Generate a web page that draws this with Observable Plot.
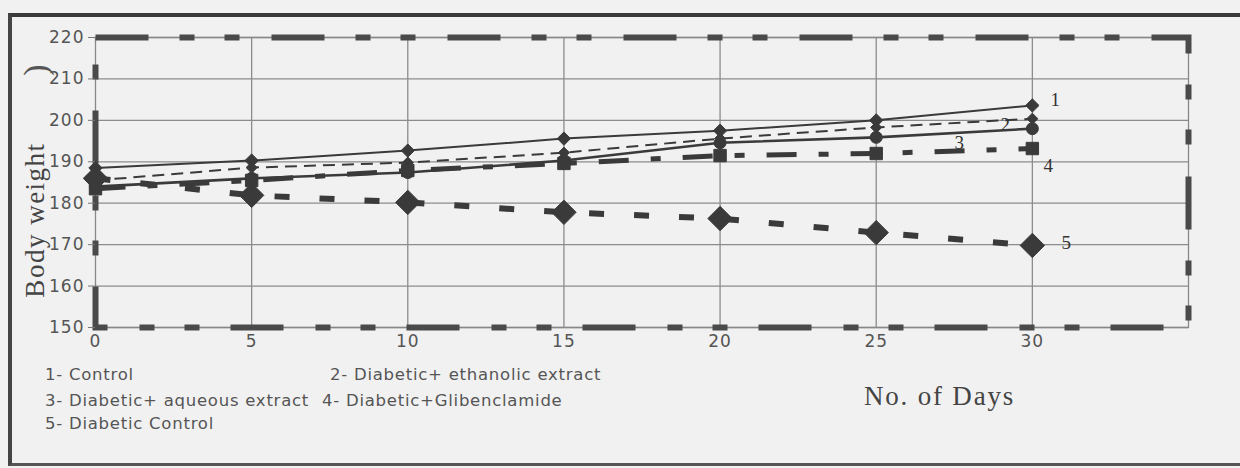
<!DOCTYPE html>
<html><head><meta charset="utf-8">
<script src="https://cdn.jsdelivr.net/npm/d3@7"></script>
<script src="https://cdn.jsdelivr.net/npm/@observablehq/plot@0.6"></script>
<style>
body{margin:0;background:#f1f1f1;}
#wrap{position:relative;width:1240px;height:468px;overflow:hidden;font-family:"DejaVu Sans",sans-serif;}
#chart{position:absolute;left:0;top:0;}
#outer{position:absolute;left:8px;top:13px;width:1250px;height:446px;border-left:4px solid #444;border-top:4px solid #3a3a3a;border-bottom:3px solid #555;}
.leg{position:absolute;font-size:16.5px;color:#555;letter-spacing:0.75px;white-space:nowrap;}
#xlabel{position:absolute;left:864px;top:381px;font-family:"Liberation Serif",serif;font-size:27px;letter-spacing:1.8px;color:#444;white-space:nowrap;}
#ylabel{position:absolute;left:35px;top:220px;transform:translate(-50%,-50%) rotate(-90deg);font-family:"Liberation Serif",serif;font-size:27px;letter-spacing:1.5px;color:#444;white-space:nowrap;}
#paren{position:absolute;left:15px;top:50px;}
</style></head><body>
<div id="wrap">
<div id="outer"></div>
<div id="chart"></div>
<svg id="paren" width="40" height="35"><text transform="translate(20,20) rotate(-90)" text-anchor="middle" dominant-baseline="central" font-family="Liberation Serif" font-size="34" fill="#555">)</text></svg>
<div id="ylabel"></div>
<div id="legend"></div>
<div id="xlabel"></div>
</div>
<script>
// ---- data ----
const days = [0, 5, 10, 15, 20, 25, 30];
const control = [188.5, 190.3, 192.7, 195.6, 197.5, 200.0, 203.6];
const ethanolic = [185.5, 188.6, 189.8, 192.2, 195.6, 198.3, 200.4];
const aqueous = [184.0, 186.0, 187.4, 190.3, 194.6, 195.9, 198.0];
const glibenclamide = [183.5, 185.5, 187.9, 189.6, 191.5, 192.0, 193.2];
const diabeticControl = [186.0, 181.9, 180.2, 177.8, 176.3, 172.9, 169.8];
const seriesKeys = ["1", "2", "3", "4", "5"];
const legendLabels = ["1- Control", "2- Diabetic+ ethanolic extract", "3- Diabetic+ aqueous extract", "4- Diabetic+Glibenclamide", "5- Diabetic Control"];
const xTicks = [0, 5, 10, 15, 20, 25, 30];
const yTicks = [150, 160, 170, 180, 190, 200, 210, 220];
const xTitle = "No. of Days";
const yTitle = "Body weight";

// ---- build table ----
const seriesValues = [control, ethanolic, aqueous, glibenclamide, diabeticControl];
const rows = [];
seriesKeys.forEach((k, s) => days.forEach((d, i) => rows.push({series: k, day: d, weight: seriesValues[s][i]})));

// ---- styles ----
const ink = "#3a3a3a";
const styles = {
  "1": {w: 2, dash: null, symbol: "diamond2", r: 6, ldx: 23, ldy: -6},
  "2": {w: 2, dash: "12,7", symbol: "diamond2", r: 5, ldx: -27, ldy: 6},
  "3": {w: 2.6, dash: null, symbol: "circle", r: 6, ldx: -73, ldy: 14},
  "4": {w: 5, dash: "30,22,10,22", symbol: "square", r: 7, ldx: 16, ldy: 17},
  "5": {w: 6, dash: "15,30", symbol: "diamond2", r: 11, ldx: 34, ldy: -3}
};

const marks = [
  Plot.ruleY(yTicks, {stroke: "#8c8c8c", strokeWidth: 1.3}),
  Plot.ruleX(xTicks.filter(d => d > 0), {stroke: "#8c8c8c", strokeWidth: 1.3}),
  Plot.frame({stroke: "#888", strokeWidth: 1.3}),
  Plot.frame({stroke: "#4a4a4a", strokeWidth: 6, strokeDasharray: "53,31,15,30,15,32"})
];
seriesKeys.forEach(k => {
  const st = styles[k];
  const d = rows.filter(r => r.series === k);
  marks.push(Plot.line(d, {x: "day", y: "weight", stroke: ink, strokeWidth: st.w, strokeDasharray: st.dash, strokeLinecap: "butt"}));
  marks.push(Plot.dot(d, {x: "day", y: "weight", symbol: st.symbol, r: st.r, fill: ink, stroke: ink, strokeWidth: 1}));
  const last = d[d.length - 1];
  marks.push(Plot.text([last], {x: "day", y: "weight", text: () => k, dx: st.ldx, dy: st.ldy, fontFamily: "Liberation Serif", fontSize: 19, fill: "#333"}));
});
marks.push(Plot.axisX({ticks: xTicks, tickSize: 0, tickPadding: 7, label: null, fontSize: 17, fill: "#555"}));
marks.push(Plot.axisY({ticks: yTicks, tickSize: 7, tickPadding: 4, stroke: "#777", fill: "#555", fontSize: 17, label: null}));

const chart = Plot.plot({
  width: 1240, height: 360,
  marginLeft: 95, marginRight: 52, marginTop: 37, marginBottom: 33,
  x: {domain: [0, 35]},
  y: {domain: [150, 220]},
  style: {background: "transparent", fontFamily: "DejaVu Sans", fontSize: "17px", color: "#555", overflow: "visible"},
  marks
});
chart.querySelectorAll('[aria-label="x-axis tick label"] text, [aria-label="y-axis tick label"] text').forEach(t => t.setAttribute("letter-spacing", "1"));
document.getElementById("chart").appendChild(chart);

// legend
const legPos = [[45, 365], [330, 365], [45, 391], [322, 391], [45, 414]];
const leg = document.getElementById("legend");
legendLabels.forEach((t, i) => {
  const el = document.createElement("div");
  el.className = "leg";
  el.style.left = legPos[i][0] + "px";
  el.style.top = legPos[i][1] + "px";
  el.textContent = t;
  leg.appendChild(el);
});
document.getElementById("xlabel").textContent = xTitle;
document.getElementById("ylabel").textContent = yTitle;
</script>
</body></html>
